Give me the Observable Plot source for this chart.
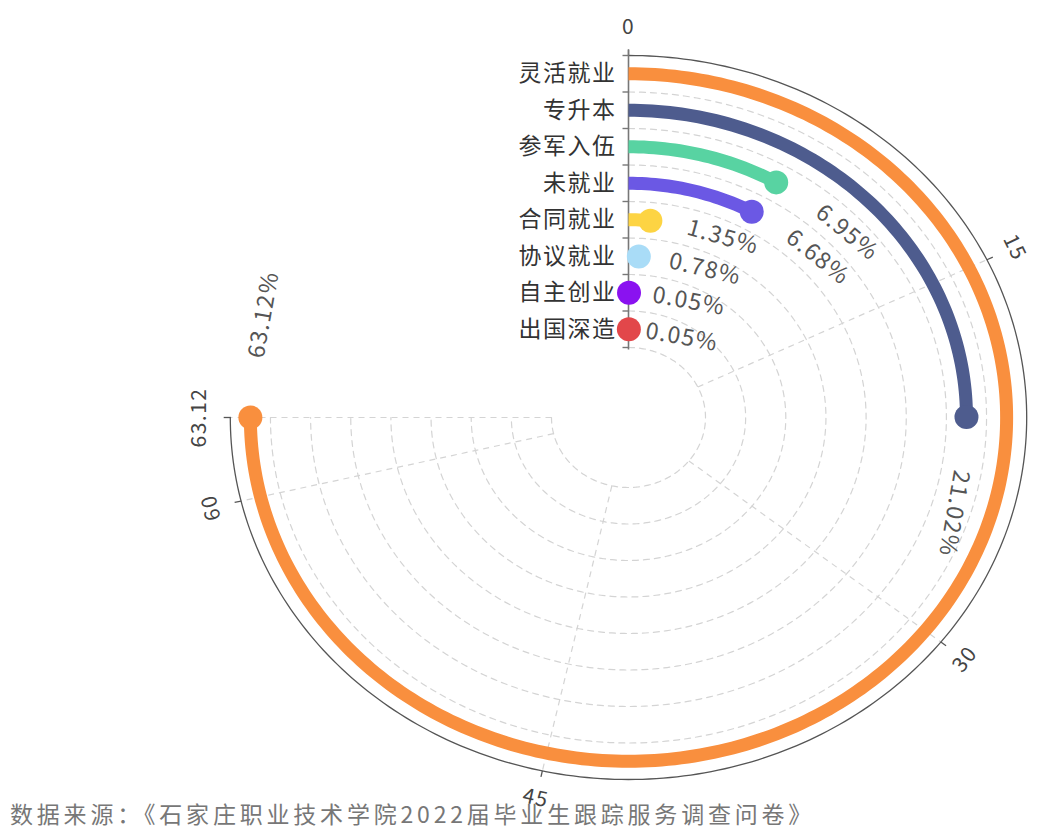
<!DOCTYPE html>
<html>
<head>
<meta charset="utf-8">
<script src="https://cdn.jsdelivr.net/npm/d3@7"></script>
<script src="https://cdn.jsdelivr.net/npm/@observablehq/plot@0.6"></script>
<style>
  html, body { margin: 0; padding: 0; background: #fff; }
  body { width: 1038px; height: 836px; overflow: hidden; font-family: "Noto Sans CJK SC", "Noto Sans", sans-serif; }
  #caption { margin: 0; padding-left: 10px; font-size: 23px; line-height: 26px; letter-spacing: 3.8px; color: #777; white-space: nowrap; }
</style>
</head>
<body>
<div id="chart"></div>
<div id="caption">数据来源：《石家庄职业技术学院2022届毕业生跟踪服务调查问卷》</div>
<script>
// ---- data ----
const categories = ["灵活就业", "专升本", "参军入伍", "未就业", "合同就业", "协议就业", "自主创业", "出国深造"];
const values = [63.12, 21.02, 6.95, 6.68, 1.35, 0.78, 0.05, 0.05];
const colors = ["#f98f3e", "#4e5c8e", "#58d3a2", "#6b58e4", "#fdd443", "#a9dcf7", "#8a12f0", "#e2474a"];
const angleTicks = [0, 15, 30, 45, 60, 63.12];
const angleTickLabels = ["0", "15", "30", "45", "60", "63.12"];
const valueLabels = values.map(v => v.toFixed(2) + "%");

// ---- polar geometry (built from the data through d3 scales) ----
const sx = 1.1;                 // horizontal stretch of the reference
const rOuter = 362, rInner = 70;
const rBand = d3.scaleBand(categories, [rOuter, rInner]);
const bw = rBand.bandwidth();
const rMid = c => rBand(c) + bw / 2;
const ang = d3.scaleLinear([0, d3.max(values)], [0, 270]);
const rad = d => d * Math.PI / 180;
const P = (r, deg) => ({x: r * sx * Math.sin(rad(deg)), y: r * Math.cos(rad(deg))});
const arc = (r, a0, a1, extra) => {
  const n = Math.max(2, Math.ceil(Math.abs(a1 - a0)) + 1);
  return d3.range(n).map(i => ({...P(r, a0 + (a1 - a0) * i / (n - 1)), ...extra}));
};

// band boundary dashed arcs
const boundaries = d3.range(categories.length).map(i => rInner + i * bw);
const gridRows = boundaries.flatMap(r => arc(r, 0, 270, {k: r}));
// radial split lines
const splitRows = angleTicks.filter(t => t > 0).map(t => {
  const a = P(rInner, ang(t)), b = P(rOuter, ang(t));
  return {x1: a.x, y1: a.y, x2: b.x, y2: b.y};
});
// outer angle axis
const outerRows = arc(rOuter, 0, 270, {});
const tickRows = angleTicks.map(t => {
  const a = P(rOuter, ang(t)), b = P(rOuter + 6, ang(t));
  return {x1: a.x, y1: a.y, x2: b.x, y2: b.y};
});
const tickRot = t => { const a = ang(t); if (a > 90 && a <= 225) return a - 180; if (a > 225) return a - 360; return a; };
const tickLabelRows = angleTicks.map((t, i) => ({...P(rOuter + 28, ang(t)), text: angleTickLabels[i], rot: tickRot(t)}));
// radial (category) axis
const radialTicks = [...boundaries, rOuter].map(r => ({x1: 0, y1: r, x2: -6, y2: r}));
// bars
const barRows = categories.flatMap((c, i) => arc(rMid(c), 0, ang(values[i]), {cat: c}));
const endRows = categories.map((c, i) => ({...P(rMid(c), ang(values[i])), cat: c}));
const labelRows = categories.map((c, i) => {
  const a = ang(values[i]) + 10;
  return {...P(rMid(c), a), text: valueLabels[i], rot: a > 180 ? a - 360 : a};
});

const chart = Plot.plot({
  width: 1038,
  height: 800,
  margin: 0,
  style: {overflow: "visible", fontFamily: "'Noto Sans CJK SC', 'Noto Sans', sans-serif", background: "#fff", letterSpacing: "1.5px"},
  x: {domain: [-628, 410], range: [0, 1038], axis: null},
  y: {domain: [-383, 417], range: [800, 0], axis: null},
  color: {domain: categories, range: colors},
  marks: [
    Plot.line(gridRows, {x: "x", y: "y", z: "k", stroke: "#d4d4d4", strokeWidth: 1.2, strokeDasharray: "6,5"}),
    Plot.link(splitRows, {x1: "x1", y1: "y1", x2: "x2", y2: "y2", stroke: "#d4d4d4", strokeWidth: 1.2, strokeDasharray: "6,5"}),
    Plot.line(outerRows, {x: "x", y: "y", stroke: "#555", strokeWidth: 1.3}),
    Plot.link(tickRows, {x1: "x1", y1: "y1", x2: "x2", y2: "y2", stroke: "#555", strokeWidth: 1.3}),
    Plot.text(tickLabelRows, {x: "x", y: "y", text: "text", rotate: "rot", fontSize: 21, fill: "#444"}),
    Plot.link([{x1: 0, y1: rInner - 2, x2: 0, y2: rOuter + 6}], {x1: "x1", y1: "y1", x2: "x2", y2: "y2", stroke: "#777", strokeWidth: 1.6}),
    Plot.link(radialTicks, {x1: "x1", y1: "y1", x2: "x2", y2: "y2", stroke: "#777", strokeWidth: 1.4}),
    Plot.text(categories, {x: 0, y: d => rMid(d), text: d => d, textAnchor: "end", dx: -12, fontSize: 23, fill: "#333"}),
    Plot.line(barRows, {x: "x", y: "y", z: "cat", stroke: "cat", strokeWidth: 13, strokeLinecap: "butt"}),
    Plot.dot(endRows, {x: "x", y: "y", r: 12, fill: "cat", stroke: null}),
    Plot.text(labelRows, {x: "x", y: "y", text: "text", rotate: "rot", textAnchor: "start", fontSize: 23, fill: "#555"})
  ]
});
document.getElementById("chart").appendChild(chart);
</script>
</body>
</html>
